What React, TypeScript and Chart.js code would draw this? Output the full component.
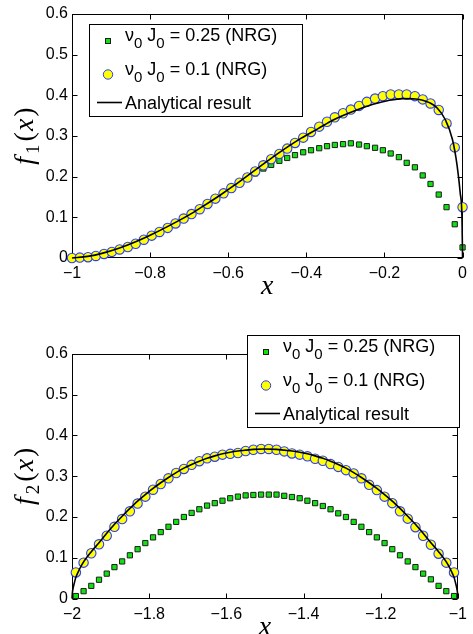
import React, { useEffect, useRef } from 'react';
import { Chart, registerables } from 'chart.js';

Chart.register(...registerables);

// ---- f1(x) panel -------------------------------------------------------
const TOP_X = [
  -1.0, -0.98, -0.959, -0.939, -0.918, -0.898, -0.878, -0.857, -0.837, -0.816,
  -0.796, -0.776, -0.755, -0.735, -0.714, -0.694, -0.673, -0.653, -0.633, -0.612,
  -0.592, -0.571, -0.551, -0.531, -0.51, -0.49, -0.469, -0.449, -0.429, -0.408,
  -0.388, -0.367, -0.347, -0.327, -0.306, -0.286, -0.265, -0.245, -0.224, -0.204,
  -0.184, -0.163, -0.143, -0.122, -0.102, -0.082, -0.061, -0.041, -0.02, 0.0,
];
const TOP_NRG_025 = [
  0.0, 0.001, 0.002, 0.004, 0.008, 0.013, 0.019, 0.026, 0.034, 0.043,
  0.052, 0.062, 0.072, 0.083, 0.095, 0.106, 0.118, 0.131, 0.143, 0.156,
  0.169, 0.182, 0.195, 0.208, 0.22, 0.229, 0.239, 0.246, 0.253, 0.26,
  0.265, 0.27, 0.275, 0.278, 0.28, 0.282, 0.279, 0.275, 0.271, 0.265,
  0.257, 0.248, 0.234, 0.223, 0.203, 0.182, 0.156, 0.125, 0.083, 0.026,
];
const TOP_NRG_01 = [
  0.0, 0.001, 0.002, 0.005, 0.01, 0.015, 0.021, 0.027, 0.035, 0.045,
  0.055, 0.064, 0.074, 0.085, 0.097, 0.108, 0.12, 0.133, 0.146, 0.159,
  0.172, 0.185, 0.198, 0.213, 0.228, 0.243, 0.256, 0.269, 0.283, 0.296,
  0.31, 0.323, 0.335, 0.346, 0.356, 0.365, 0.374, 0.384, 0.392, 0.398,
  0.402, 0.402, 0.402, 0.398, 0.39, 0.38, 0.364, 0.331, 0.272, 0.125,
];
const TOP_CURVE_X = [
  -1.0, -0.96, -0.921, -0.88, -0.837, -0.8, -0.752, -0.7, -0.668, -0.62,
  -0.584, -0.54, -0.5, -0.474, -0.414, -0.37, -0.33, -0.271, -0.229, -0.187,
  -0.153, -0.12, -0.102, -0.085, -0.065, -0.044, -0.026, -0.014, -0.006, -0.0015, 0.0,
];
const TOP_CURVE_Y = [
  0.0, 0.004, 0.012, 0.024, 0.04, 0.056, 0.079, 0.106, 0.125, 0.155,
  0.179, 0.21, 0.238, 0.256, 0.294, 0.318, 0.34, 0.364, 0.378, 0.388,
  0.392, 0.391, 0.388, 0.382, 0.369, 0.34, 0.292, 0.228, 0.16, 0.1, 0.0,
];
const TOP_X_TICKS = [-1, -0.8, -0.6, -0.4, -0.2, 0];

// ---- f2(x) panel -------------------------------------------------------
const BOT_X = [
  -1.99, -1.97, -1.95, -1.93, -1.91, -1.89, -1.87, -1.85, -1.83, -1.81,
  -1.79, -1.77, -1.75, -1.73, -1.71, -1.69, -1.67, -1.65, -1.63, -1.61,
  -1.59, -1.57, -1.55, -1.53, -1.51, -1.49, -1.47, -1.45, -1.43, -1.41,
  -1.39, -1.37, -1.35, -1.33, -1.31, -1.29, -1.27, -1.25, -1.23, -1.21,
  -1.19, -1.17, -1.15, -1.13, -1.11, -1.09, -1.07, -1.05, -1.03, -1.01,
];
const BOT_NRG_025 = [
  0.006, 0.018, 0.031, 0.046, 0.061, 0.077, 0.091, 0.106, 0.121, 0.136,
  0.15, 0.163, 0.176, 0.188, 0.2, 0.21, 0.219, 0.228, 0.234, 0.24,
  0.246, 0.25, 0.253, 0.254, 0.255, 0.255, 0.255, 0.252, 0.249, 0.246,
  0.24, 0.234, 0.227, 0.219, 0.209, 0.2, 0.188, 0.176, 0.163, 0.15,
  0.136, 0.121, 0.106, 0.091, 0.077, 0.061, 0.047, 0.031, 0.018, 0.006,
];
const BOT_NRG_01 = [
  0.064, 0.088, 0.111, 0.133, 0.154, 0.176, 0.195, 0.214, 0.233, 0.25,
  0.267, 0.281, 0.295, 0.308, 0.318, 0.328, 0.337, 0.344, 0.348, 0.353,
  0.355, 0.357, 0.362, 0.365, 0.367, 0.367, 0.365, 0.361, 0.356, 0.353,
  0.349, 0.343, 0.338, 0.33, 0.323, 0.315, 0.307, 0.295, 0.279, 0.266,
  0.25, 0.234, 0.214, 0.196, 0.175, 0.154, 0.132, 0.11, 0.088, 0.064,
];
const BOT_CURVE_X = [
  -2.0, -1.999, -1.997, -1.994, -1.99, -1.98, -1.97, -1.95, -1.93, -1.91,
  -1.89, -1.87, -1.85, -1.83, -1.81, -1.79, -1.77, -1.75, -1.73, -1.71,
  -1.69, -1.67, -1.65, -1.63, -1.61, -1.59, -1.57, -1.55, -1.53, -1.5,
  -1.47, -1.45, -1.43, -1.41, -1.39, -1.37, -1.35, -1.33, -1.31, -1.29,
  -1.27, -1.25, -1.23, -1.21, -1.19, -1.17, -1.15, -1.13, -1.11, -1.09,
  -1.07, -1.05, -1.03, -1.02, -1.01, -1.006, -1.003, -1.001, -1.0,
];
const BOT_CURVE_Y = [
  0.0, 0.014, 0.026, 0.038, 0.052, 0.073, 0.09, 0.115, 0.137, 0.16,
  0.182, 0.202, 0.221, 0.239, 0.255, 0.27, 0.284, 0.297, 0.309, 0.32,
  0.329, 0.337, 0.344, 0.35, 0.355, 0.359, 0.362, 0.364, 0.366, 0.367,
  0.366, 0.364, 0.362, 0.359, 0.355, 0.35, 0.344, 0.337, 0.329, 0.32,
  0.309, 0.297, 0.284, 0.27, 0.255, 0.239, 0.221, 0.202, 0.182, 0.16,
  0.137, 0.115, 0.09, 0.073, 0.052, 0.038, 0.026, 0.014, 0.0,
];
const BOT_X_TICKS = [-2, -1.8, -1.6, -1.4, -1.2, -1];

const Y_TICKS = [0, 0.1, 0.2, 0.3, 0.4, 0.5, 0.6];
const COUPLINGS = [0.25, 0.1];
const CURVE_LABEL = 'Analytical result';

// ---- styling ------------------------------------------------------------
const SANS = '"Liberation Sans", Arial, Helvetica, sans-serif';
const SERIF = '"Liberation Serif", "Times New Roman", serif';
const W = 473;
const H = 317;
const TICK_LEN = 5;
const YELLOW = '#ffff00';
const BLUE = '#2a3cff';
const GREEN = '#12e012';
const GREEN_EDGE = '#1b1f1b';
const CIRCLE_R = 4.7;

type Run = { t: string; font: string; dx?: number; dy?: number };

function runsWidth(ctx: CanvasRenderingContext2D, runs: Run[]) {
  let w = 0;
  for (const r of runs) {
    ctx.font = r.font;
    w += (r.dx ?? 0) + ctx.measureText(r.t).width;
  }
  return w;
}

function drawRuns(ctx: CanvasRenderingContext2D, x: number, y: number, runs: Run[]) {
  let cx = x;
  for (const r of runs) {
    cx += r.dx ?? 0;
    ctx.font = r.font;
    ctx.fillText(r.t, cx, y + (r.dy ?? 0));
    cx += ctx.measureText(r.t).width;
  }
}

function fmtTick(v: number) {
  const r = Math.round(v * 10) / 10;
  if (r === 0) return '0';
  return r < 0 ? '\u2212' + String(-r) : String(r);
}

// axes box with inward tick marks on all four sides, drawn under the data
const framePlugin = {
  id: 'frame',
  beforeDatasetsDraw(chart: any) {
    const { ctx, chartArea: a } = chart;
    const sx = chart.scales.x;
    const sy = chart.scales.y;
    const L = Math.round(a.left) + 0.5;
    const R = Math.round(a.right) - 0.5;
    const T = Math.round(a.top) + 0.5;
    const B = Math.round(a.bottom) - 0.5;
    ctx.save();
    ctx.strokeStyle = '#000';
    ctx.lineWidth = 1;
    ctx.strokeRect(L, T, R - L, B - T);
    ctx.beginPath();
    for (const t of sx.ticks) {
      const px = Math.round(sx.getPixelForValue(t.value)) + 0.5;
      ctx.moveTo(px, B);
      ctx.lineTo(px, B - TICK_LEN);
      ctx.moveTo(px, T);
      ctx.lineTo(px, T + TICK_LEN);
    }
    for (const t of sy.ticks) {
      const py = Math.round(sy.getPixelForValue(t.value)) + 0.5;
      ctx.moveTo(L, py);
      ctx.lineTo(L + TICK_LEN, py);
      ctx.moveTo(R, py);
      ctx.lineTo(R - TICK_LEN, py);
    }
    ctx.stroke();
    ctx.restore();
  },
};

// axis titles (math style) and the boxed legend, drawn over everything
const annotPlugin = {
  id: 'annot',
  afterDraw(chart: any, _args: any, opts: any) {
    const { ctx, chartArea: a } = chart;
    ctx.save();
    ctx.fillStyle = '#000';
    ctx.textBaseline = 'alphabetic';
    ctx.textAlign = 'left';

    // x title
    const xr: Run[] = [{ t: 'x', font: `italic 28px ${SERIF}` }];
    const xw = runsWidth(ctx, xr);
    drawRuns(ctx, (a.left + a.right) / 2 - xw / 2, a.bottom + opts.xTitleGap, xr);

    // y title, rotated
    const yr: Run[] = [
      { t: 'f', font: `italic 28px ${SERIF}` },
      { t: opts.sub, font: `19px ${SERIF}`, dx: 3, dy: 6 },
      { t: '(', font: `28px ${SERIF}`, dx: 3 },
      { t: 'x', font: `italic 28px ${SERIF}`, dx: 1 },
      { t: ')', font: `28px ${SERIF}`, dx: 2 },
    ];
    const yw = runsWidth(ctx, yr);
    ctx.save();
    ctx.translate(opts.yTitleX, (a.top + a.bottom) / 2);
    ctx.rotate(-Math.PI / 2);
    drawRuns(ctx, -yw / 2, 0, yr);
    ctx.restore();

    // legend
    const b = opts.legend;
    ctx.fillStyle = '#fff';
    ctx.fillRect(b.x, b.y, b.w, b.h);
    ctx.strokeStyle = '#000';
    ctx.lineWidth = 1;
    ctx.strokeRect(b.x + 0.5, b.y + 0.5, b.w, b.h);

    const mx = b.x + 19;
    const tx = b.x + 36;
    const main = `18px ${SANS}`;
    const sub = `15px ${SANS}`;
    const rows = [b.y + 17, b.y + 50.5];

    // row 1: green square
    ctx.fillStyle = GREEN;
    ctx.strokeStyle = GREEN_EDGE;
    ctx.fillRect(mx - 2, rows[0] - 2, 4, 4);
    ctx.strokeRect(mx - 2.5, rows[0] - 2.5, 5, 5);
    // row 2: yellow circle
    ctx.beginPath();
    ctx.arc(mx, rows[1], CIRCLE_R, 0, Math.PI * 2);
    ctx.fillStyle = YELLOW;
    ctx.fill();
    ctx.strokeStyle = BLUE;
    ctx.stroke();
    // row 3: line sample
    ctx.beginPath();
    ctx.moveTo(b.x + 8, b.y + 78.5);
    ctx.lineTo(b.x + 33, b.y + 78.5);
    ctx.strokeStyle = '#000';
    ctx.lineWidth = 1.6;
    ctx.stroke();

    ctx.fillStyle = '#000';
    COUPLINGS.forEach((c, i) => {
      drawRuns(ctx, tx, rows[i], [
        { t: '\u03bd', font: main },
        { t: '0', font: sub, dy: 7 },
        { t: ' J', font: main },
        { t: '0', font: sub, dy: 7 },
        { t: ` = ${c} (NRG)`, font: main },
      ]);
    });
    drawRuns(ctx, tx, b.y + 85, [{ t: CURVE_LABEL, font: main }]);
    ctx.restore();
  },
};

type Panel = {
  xs: number[];
  nrg025: number[];
  nrg01: number[];
  curveX: number[];
  curveY: number[];
  xTicks: number[];
  sub: string;
  padTop: number;
  axisH: number;
  legend: { x: number; y: number; w: number; h: number };
};

function pts(xs: number[], ys: number[]) {
  return xs.map((x, i) => ({ x, y: ys[i] }));
}

function makeConfig(p: Panel): any {
  return {
    type: 'scatter',
    data: {
      datasets: [
        {
          label: CURVE_LABEL,
          data: pts(p.curveX, p.curveY),
          showLine: true,
          borderColor: '#000',
          borderWidth: 1.6,
          pointRadius: 0,
          cubicInterpolationMode: 'monotone',
          clip: false,
        },
        {
          label: 'nu0 J0 = ' + COUPLINGS[1],
          data: pts(p.xs, p.nrg01),
          pointStyle: 'circle',
          pointRadius: CIRCLE_R,
          backgroundColor: YELLOW,
          borderColor: BLUE,
          borderWidth: 1.1,
          clip: false,
        },
        {
          label: 'nu0 J0 = ' + COUPLINGS[0],
          data: pts(p.xs, p.nrg025),
          pointStyle: 'rect',
          pointRadius: 3.7,
          backgroundColor: GREEN,
          borderColor: GREEN_EDGE,
          borderWidth: 1,
          clip: false,
        },
      ],
    },
    options: {
      animation: false,
      responsive: false,
      devicePixelRatio: 1,
      events: [],
      layout: { autoPadding: false, padding: { left: 0, right: 5.5, top: p.padTop, bottom: 0 } },
      plugins: {
        legend: { display: false },
        tooltip: { enabled: false },
        annot: { sub: p.sub, legend: p.legend, xTitleGap: 36, yTitleX: 33 },
      },
      scales: {
        x: {
          type: 'linear',
          min: p.xTicks[0],
          max: p.xTicks[p.xTicks.length - 1],
          grid: { display: false, drawTicks: false },
          border: { display: false },
          ticks: {
            padding: 6,
            color: '#000',
            font: { family: SANS, size: 16 },
            maxRotation: 0,
            autoSkip: false,
            callback: (v: number) => fmtTick(v),
          },
          afterBuildTicks: (s: any) => {
            s.ticks = p.xTicks.map((v) => ({ value: v }));
          },
          afterFit: (s: any) => {
            s.height = p.axisH;
          },
        },
        y: {
          type: 'linear',
          min: Y_TICKS[0],
          max: Y_TICKS[Y_TICKS.length - 1],
          grid: { display: false, drawTicks: false },
          border: { display: false },
          ticks: {
            padding: 4,
            color: '#000',
            font: { family: SANS, size: 16 },
            autoSkip: false,
            callback: (v: number) => fmtTick(v),
          },
          afterBuildTicks: (s: any) => {
            s.ticks = Y_TICKS.map((v) => ({ value: v }));
          },
          afterFit: (s: any) => {
            s.width = 72;
          },
        },
      },
    },
    plugins: [framePlugin, annotPlugin],
  };
}

const TOP_PANEL: Panel = {
  xs: TOP_X,
  nrg025: TOP_NRG_025,
  nrg01: TOP_NRG_01,
  curveX: TOP_CURVE_X,
  curveY: TOP_CURVE_Y,
  xTicks: TOP_X_TICKS,
  sub: '1',
  padTop: 14,
  axisH: 59,
  legend: { x: 89, y: 24, w: 213, h: 92 },
};

const BOT_PANEL: Panel = {
  xs: BOT_X,
  nrg025: BOT_NRG_025,
  nrg01: BOT_NRG_01,
  curveX: BOT_CURVE_X,
  curveY: BOT_CURVE_Y,
  xTicks: BOT_X_TICKS,
  sub: '2',
  padTop: 37,
  axisH: 35.5,
  legend: { x: 247, y: 18, w: 212, h: 92 },
};

function PanelChart({ panel, top }: { panel: Panel; top: number }) {
  const ref = useRef<HTMLCanvasElement | null>(null);
  useEffect(() => {
    if (!ref.current) return;
    const chart = new Chart(ref.current, makeConfig(panel));
    return () => chart.destroy();
  }, [panel]);
  return (
    <canvas
      ref={ref}
      width={W}
      height={H}
      style={{ position: 'absolute', left: 0, top, width: W, height: H }}
    />
  );
}

export default function App() {
  return (
    <div
      style={{
        position: 'absolute',
        left: 0,
        top: 0,
        width: W,
        height: 2 * H,
        background: '#fff',
        overflow: 'hidden',
      }}
    >
      <PanelChart panel={TOP_PANEL} top={0} />
      <PanelChart panel={BOT_PANEL} top={H} />
    </div>
  );
}
